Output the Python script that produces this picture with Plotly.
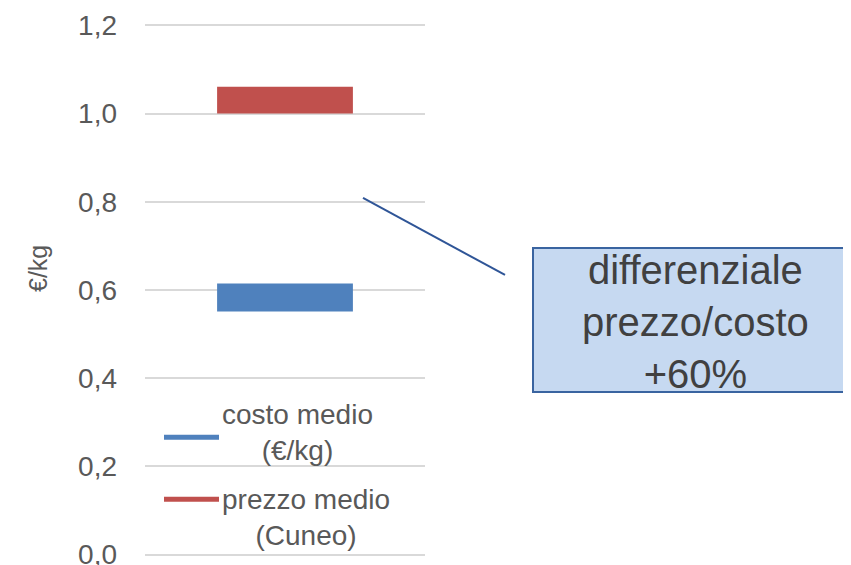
import plotly.graph_objects as go

# ---- data ----
categories = ["media"]
series_names = ["costo medio<br>(€/kg)", "prezzo medio<br>(Cuneo)"]
series_low = [0.551, 1.000]
series_high = [0.615, 1.061]
series_colors = ["#4F81BD", "#C0504D"]
tick_vals = [0.0, 0.2, 0.4, 0.6, 0.8, 1.0, 1.2]
y_range = [-0.01, 1.21]
y_title = "€/kg"
box_text = "differenziale<br>prezzo/costo<br>+60%"

OFF = 8  # page body margin
W, H = 851 - OFF, 565 - OFF
PPU = 440.5  # px per unit on y
L, R = 145 - OFF, 425 - OFF
T = 25.7 - OFF - (y_range[1] - 1.2) * PPU
B = 554.3 - OFF + (0 - y_range[0]) * PPU


def px(x):
    return (x - OFF - L) / (R - L)


def py(y):
    return (B - (y - OFF)) / (B - T)


FONT = "Liberation Sans, Arial, sans-serif"
GREY = "#595959"

fig = go.Figure()
for name, lo, hi, col in zip(series_names, series_low, series_high, series_colors):
    fig.add_trace(go.Bar(
        x=categories, y=[hi - lo], base=[lo], name=name,
        marker=dict(color=col, line=dict(width=0)), width=0.485,
        showlegend=False,
    ))

fig.update_layout(
    width=W, height=H,
    margin=dict(l=L, r=W - R, t=T, b=H - B, pad=0, autoexpand=False),
    paper_bgcolor="white", plot_bgcolor="white",
    separators=",.",
    font=dict(family=FONT, color=GREY),
    barmode="overlay",
    xaxis=dict(visible=False, range=[-0.5, 0.5], automargin=False),
    yaxis=dict(
        range=y_range, tickvals=tick_vals, tickformat=".1f",
        showgrid=True, gridcolor="#D9D9D9", gridwidth=1.5,
        zeroline=False, showline=False, automargin=False,
        tickfont=dict(size=28, color=GREY, family=FONT),
        ticklabelstandoff=27, ticklabeloverflow="allow",
    ),
)

# y-axis title
fig.add_annotation(text=y_title, xref="paper", yref="paper", x=px(38), y=py(269),
                   textangle=-90, showarrow=False, font=dict(size=25, color=GREY),
                   xanchor="center", yanchor="middle")

# manual legend
legend_line_y = [437, 499]
legend_text_y = [432, 517]
for name, col, ly, ty in zip(series_names, series_colors, legend_line_y, legend_text_y):
    fig.add_shape(type="line", xref="paper", yref="paper",
                  x0=px(164), x1=px(219), y0=py(ly), y1=py(ly),
                  line=dict(color=col, width=5))
    fig.add_annotation(text=name, xref="paper", yref="paper", x=px(220), y=py(ty),
                       showarrow=False, align="center", xanchor="left", yanchor="middle",
                       font=dict(size=28, color=GREY))

# connector line
fig.add_shape(type="line", xref="paper", yref="paper",
              x0=px(363), y0=py(198), x1=px(505), y1=py(275),
              line=dict(color="#2F5597", width=2))

# callout box
fig.add_shape(type="rect", xref="paper", yref="paper",
              x0=px(533), x1=px(860), y0=py(392), y1=py(248),
              fillcolor="#C6D9F1", line=dict(color="#3A64A0", width=2))
fig.add_annotation(text=box_text, xref="paper", yref="paper", x=px(695), y=py(322),
                   showarrow=False, align="center", xanchor="center", yanchor="middle",
                   font=dict(size=40, color="#404040"))

fig.write_html("out.html")
